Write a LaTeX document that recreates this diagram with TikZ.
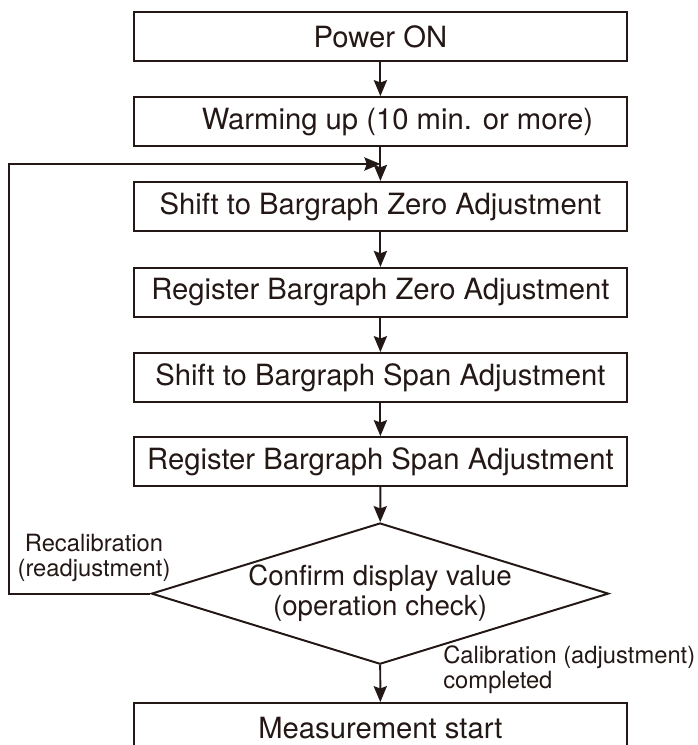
\documentclass[tikz,border=0pt]{standalone}
\usepackage{fontspec}
\setmainfont{TeX Gyre Heros}
\usepackage{tikz}
\usetikzlibrary{shapes.geometric, arrows.meta, positioning}
\definecolor{ink}{RGB}{35,24,21}

\begin{document}
\begin{tikzpicture}[
  stepbox/.style={draw=ink, line width=1.4pt, minimum width=12.33cm, minimum height=1.225cm, inner sep=0pt, align=center, text=ink, font=\fontsize{20.8}{25}\selectfont},
  check/.style={diamond, draw=ink, line width=1.4pt, minimum width=11.43cm, minimum height=3.53cm, aspect=3.24, inner sep=0pt, align=center, text=ink, font=\fontsize{19.7}{21.3}\selectfont},
  lbl/.style={text=ink, inner sep=0pt, font=\fontsize{16.9}{17.8}\selectfont},
  arr/.style={-{Stealth[length=0.4cm, width=0.33cm, inset=0.06cm]}, draw=ink, line width=1.4pt},
]
\clip (0,0) rectangle (17.425,-18.625);

% Steps
\node[stepbox] (power) at (9.51, -0.91) {Power ON};
\node[stepbox] (warm) at (9.51, -3.04) {\hspace*{0.85cm}Warming up (10 min. or more)};
\node[stepbox] (shiftzero) at (9.51, -5.16) {Shift to Bargraph Zero Adjustment};
\node[stepbox] (regzero) at (9.51, -7.31) {Register Bargraph Zero Adjustment};
\node[stepbox] (shiftspan) at (9.51, -9.44) {Shift to Bargraph Span Adjustment};
\node[stepbox] (regspan) at (9.51, -11.54) {Register Bargraph Span Adjustment};
\node[check] (confirm) at (9.5, -14.84) {Confirm display value\\(operation check)};
\node[stepbox] (measure) at (9.51, -18.19) {Measurement start};
\coordinate (join) at (9.51, -4.1);

% Labels
\node[lbl, align=center] (recal) at (2.35, -13.95) {Recalibration\\(readjustment)};
\node[lbl, align=left, anchor=west] (done) at (11.075, -16.75) {Calibration (adjustment)\\completed};

% Flow
\draw[arr] (power) -- (warm);
\draw[arr] (warm) -- (shiftzero);
\draw[arr] (shiftzero) -- (regzero);
\draw[arr] (regzero) -- (shiftspan);
\draw[arr] (shiftspan) -- (regspan);
\draw[arr] (regspan) -- (confirm);
\draw[arr] (confirm) -- (measure);
\draw[arr] (confirm.west) -- ++(-3.525,0) |- (join);

\end{tikzpicture}
\end{document}
